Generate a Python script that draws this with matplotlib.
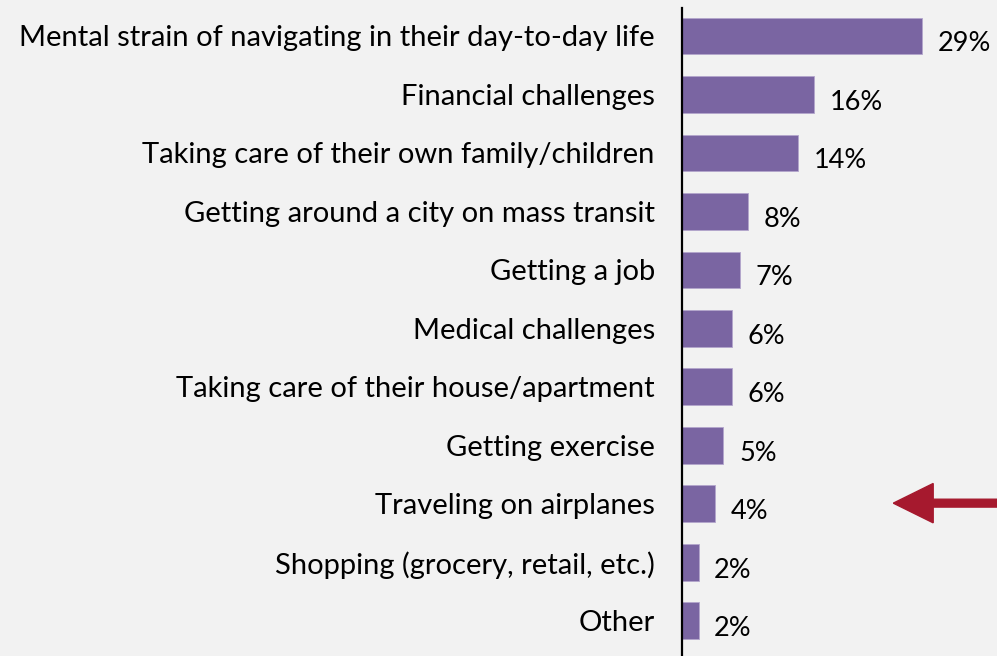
import matplotlib.pyplot as plt
from matplotlib.patches import FancyArrow

categories = [
    "Mental strain of navigating in their day-to-day life",
    "Financial challenges",
    "Taking care of their own family/children",
    "Getting around a city on mass transit",
    "Getting a job",
    "Medical challenges",
    "Taking care of their house/apartment",
    "Getting exercise",
    "Traveling on airplanes",
    "Shopping (grocery, retail, etc.)",
    "Other",
]
values = [29, 16, 14, 8, 7, 6, 6, 5, 4, 2, 2]
value_labels = ["29%", "16%", "14%", "8%", "7%", "6%", "6%", "5%", "4%", "2%", "2%"]

bg = "#f2f2f2"
bar_color = "#7a65a2"
font = ["Lato", "DejaVu Sans"]

fig = plt.figure(figsize=(9.97, 6.56), dpi=100, facecolor=bg)
ax = fig.add_axes([0.684, 0.0, 0.316, 0.988])
ax.set_facecolor(bg)

ypos = list(range(len(categories)))
ax.barh(ypos, values, height=0.63, color=bar_color, edgecolor="#b3a6cc", linewidth=0.6)
ax.set_ylim(10.6, -0.48)
ax.set_xlim(0, 38.05)

for y, v, lab in zip(ypos, values, value_labels):
    ax.text(v + 1.9, y + 0.13, lab, va="center", ha="left", fontsize=19.5, family=font, color="black")

ax.set_yticks(ypos)
ax.set_yticklabels(categories, fontsize=21, family=font)
ax.tick_params(axis="y", length=0, pad=19.5)
ax.set_xticks([])
for s in ["top", "right", "bottom"]:
    ax.spines[s].set_visible(False)
ax.spines["left"].set_linewidth(1.6)
ax.spines["left"].set_color("black")

# red arrow pointing at "Traveling on airplanes"
arrow = FancyArrow(1.0, 0.233, -0.104, 0.0, width=0.012, head_width=0.06, head_length=0.04,
                   length_includes_head=True, color="#a6192e", transform=fig.transFigure, clip_on=False)
fig.patches.append(arrow)

plt.savefig("out.png", dpi=100, facecolor=bg)
